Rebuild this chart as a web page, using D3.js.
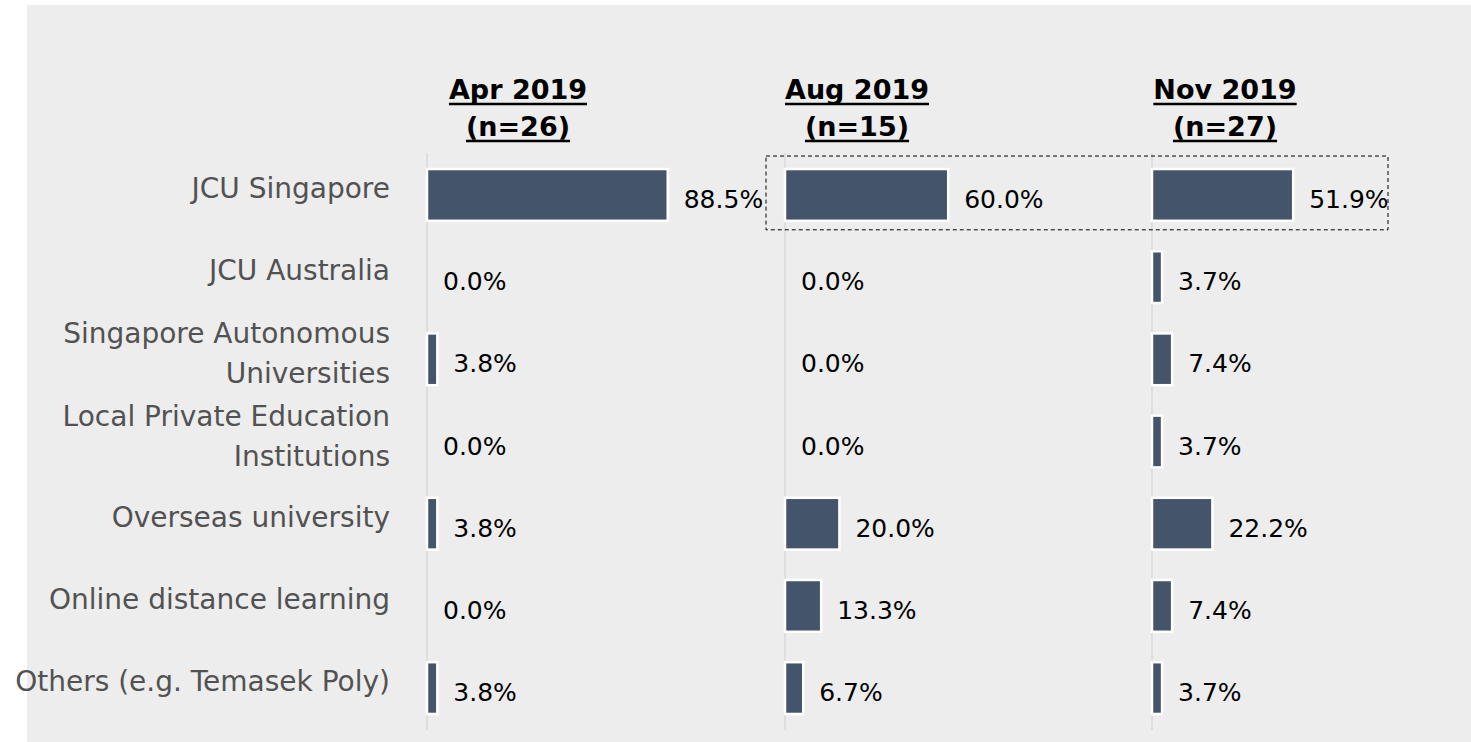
<!DOCTYPE html>
<html>
<head>
<meta charset="utf-8">
<script src="https://cdn.jsdelivr.net/npm/d3@7"></script>
<style>
  html, body { margin: 0; padding: 0; background: #ffffff; }
  svg { display: block; }
  .cat { font-family: 'DejaVu Sans', sans-serif; font-size: 28px; fill: #525252; }
  .val { font-family: 'DejaVu Sans', sans-serif; font-size: 25px; fill: #000000; }
  .head { font-family: 'DejaVu Sans', sans-serif; font-size: 27px; font-weight: bold; fill: #000000; }
</style>
</head>
<body>
<div id="chart"></div>
<script>
// chart data
const categories = [
  ['JCU Singapore'],
  ['JCU Australia'],
  ['Singapore Autonomous', 'Universities'],
  ['Local Private Education', 'Institutions'],
  ['Overseas university'],
  ['Online distance learning'],
  ['Others (e.g. Temasek Poly)']
];
const periods = ['Apr 2019', 'Aug 2019', 'Nov 2019'];
const sampleSizes = ['(n=26)', '(n=15)', '(n=27)'];
const apr2019 = [88.5, 0.0, 3.8, 0.0, 3.8, 0.0, 3.8];
const aug2019 = [60.0, 0.0, 0.0, 0.0, 20.0, 13.3, 6.7];
const nov2019 = [51.9, 3.7, 7.4, 3.7, 22.2, 7.4, 3.7];
const seriesValues = [apr2019, aug2019, nov2019];
// the boxed highlight covers the first category in these periods
const highlightPeriods = ['Aug 2019', 'Nov 2019'];

const WIDTH = 1471;
const HEIGHT = 742;
const BAR_COLOR = '#44546A';
const PANEL_WIDTH = 272;

const catKeys = categories.map((c) => c.join(' '));

const svg = d3.select('#chart')
  .append('svg')
  .attr('width', WIDTH)
  .attr('height', HEIGHT);

// grey plot background
svg.append('rect')
  .attr('x', 27)
  .attr('y', 5)
  .attr('width', WIDTH - 27)
  .attr('height', HEIGHT - 5)
  .attr('fill', '#ededed');

// panels
const panelX = d3.scaleOrdinal()
  .domain(periods)
  .range([427, 785, 1152]);
const headerDx = d3.scaleOrdinal()
  .domain(periods)
  .range([91, 72, 73]);

const xScale = d3.scaleLinear()
  .domain([0, 100])
  .range([0, PANEL_WIDTH]);

const yScale = d3.scaleBand()
  .domain(catKeys)
  .range([153, 730])
  .paddingInner(0.37)
  .paddingOuter(0.195);

// category labels
const catLabels = svg.append('g').attr('class', 'cat-labels');
categories.forEach((lines, i) => {
  const cy = yScale(catKeys[i]) + yScale.bandwidth() / 2;
  const text = catLabels.append('text')
    .attr('class', 'cat')
    .attr('text-anchor', 'end')
    .attr('x', 390);
  if (lines.length === 1) {
    text.attr('y', cy + 3).text(lines[0]);
  } else {
    text.append('tspan').attr('x', 390).attr('y', cy - 16).text(lines[0]);
    text.append('tspan').attr('x', 390).attr('y', cy + 24).text(lines[1]);
  }
});

periods.forEach((period, p) => {
  const x0 = panelX(period);
  const panel = svg.append('g')
    .attr('transform', `translate(${x0},0)`);

  // vertical axis line
  panel.append('line')
    .attr('x1', 0)
    .attr('x2', 0)
    .attr('y1', yScale.range()[0])
    .attr('y2', yScale.range()[1])
    .attr('stroke', '#d9d9d9')
    .attr('stroke-width', 1.5);

  const rows = seriesValues[p].map((v, i) => ({ cat: catKeys[i], value: v }));

  panel.selectAll('.bar')
    .data(rows.filter((d) => d.value > 0))
    .join('rect')
    .attr('class', 'bar')
    .attr('x', xScale(0))
    .attr('y', (d) => yScale(d.cat))
    .attr('width', (d) => xScale(d.value) - xScale(0))
    .attr('height', yScale.bandwidth())
    .attr('fill', BAR_COLOR)
    .attr('stroke', '#ffffff')
    .attr('stroke-width', 2.5);

  panel.selectAll('.val')
    .data(rows)
    .join('text')
    .attr('class', 'val')
    .attr('x', (d) => xScale(d.value) + 16)
    .attr('y', (d) => yScale(d.cat) + yScale.bandwidth() / 2 + 13)
    .text((d) => `${d.value.toFixed(1)}%`);

  // underlined header
  const hx = headerDx(period);
  [[period, 99], [sampleSizes[p], 136]].forEach(([label, by]) => {
    const t = panel.append('text')
      .attr('class', 'head')
      .attr('text-anchor', 'middle')
      .attr('x', hx)
      .attr('y', by)
      .text(label);
    const w = t.node().getComputedTextLength();
    panel.append('line')
      .attr('x1', hx - w / 2)
      .attr('x2', hx + w / 2)
      .attr('y1', by + 5)
      .attr('y2', by + 5)
      .attr('stroke', '#000000')
      .attr('stroke-width', 2.5);
  });
});

// dashed highlight box round the first category
const firstCat = catKeys[0];
const boxX0 = panelX(highlightPeriods[0]) - 19;
const boxX1 = panelX(highlightPeriods[highlightPeriods.length - 1]) + 236;
const boxY0 = yScale(firstCat) - 13;
const boxY1 = yScale(firstCat) + yScale.bandwidth() + 9;
svg.append('rect')
  .attr('x', boxX0)
  .attr('y', boxY0)
  .attr('width', boxX1 - boxX0)
  .attr('height', boxY1 - boxY0)
  .attr('fill', 'none')
  .attr('stroke', '#000000')
  .attr('stroke-width', 1)
  .attr('stroke-dasharray', '4,3');
</script>
</body>
</html>
